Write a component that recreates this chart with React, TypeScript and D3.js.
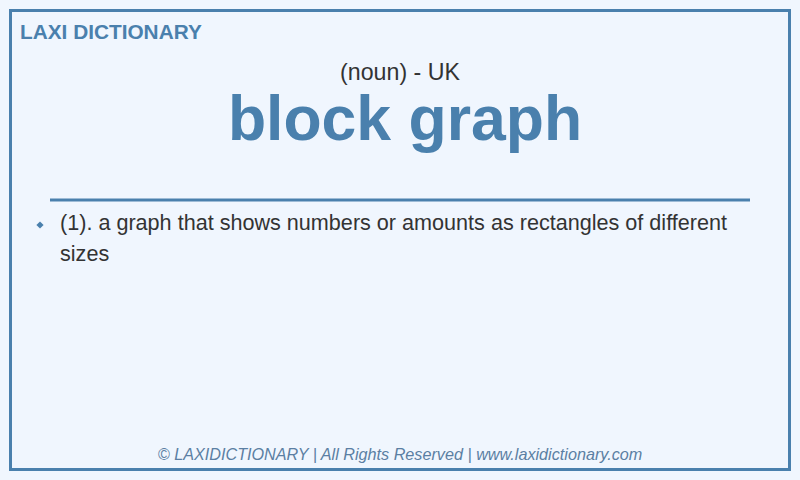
import { useEffect, useRef } from "react";
import * as d3 from "d3";

const marca = "LAXI DICTIONARY";
const categoria = "(noun) - UK";
const palabra = "block graph";
const definiciones = [
  ["(1). a graph that shows numbers or amounts as rectangles of different", "sizes"],
];
const pie = "© LAXIDICTIONARY | All Rights Reserved | www.laxidictionary.com";

const AZUL = "#4a80ad";
const FONDO = "#f0f6fe";
const FUENTE = "'Liberation Sans', Arial, Helvetica, sans-serif";

export default function App() {
  const svgRef = useRef<SVGSVGElement>(null);
  const ANCHO = 800;
  const ALTO = 480;

  useEffect(() => {
    if (!svgRef.current) return;
    const svg = d3.select(svgRef.current);
    svg.selectAll("*").remove();

    svg.append("rect").attr("width", ANCHO).attr("height", ALTO).attr("fill", FONDO);

    // marco
    svg
      .append("rect")
      .attr("x", 10.5)
      .attr("y", 10.5)
      .attr("width", 779)
      .attr("height", 459)
      .attr("fill", "none")
      .attr("stroke", AZUL)
      .attr("stroke-width", 3);

    svg
      .append("text")
      .attr("x", 20)
      .attr("y", 39)
      .attr("fill", AZUL)
      .attr("font-family", FUENTE)
      .attr("font-size", 20.8)
      .attr("font-weight", 700)
      .text(marca);

    svg
      .append("text")
      .attr("x", 400)
      .attr("y", 80)
      .attr("text-anchor", "middle")
      .attr("fill", "#333333")
      .attr("font-family", FUENTE)
      .attr("font-size", 23.2)
      .text(categoria);

    svg
      .append("text")
      .attr("x", 405)
      .attr("y", 140)
      .attr("text-anchor", "middle")
      .attr("fill", AZUL)
      .attr("font-family", FUENTE)
      .attr("font-size", 62.5)
      .attr("font-weight", 700)
      .text(palabra);

    svg
      .append("line")
      .attr("x1", 50)
      .attr("x2", 750)
      .attr("y1", 200)
      .attr("y2", 200)
      .attr("stroke", AZUL)
      .attr("stroke-width", 3);

    const lineaAlto = 31;
    let y0 = 230;
    definiciones.forEach((lineas) => {
      svg
        .append("path")
        .attr("d", d3.symbol(d3.symbolSquare, 26)())
        .attr("transform", `translate(40,${y0 - 5}) rotate(45)`)
        .attr("fill", AZUL);
      lineas.forEach((l, i) => {
        svg
          .append("text")
          .attr("x", 60)
          .attr("y", y0 + i * lineaAlto)
          .attr("fill", "#333333")
          .attr("font-family", FUENTE)
          .attr("font-size", 21.6)
          .text(l);
      });
      y0 += lineas.length * lineaAlto + 10;
    });

    svg
      .append("text")
      .attr("x", 400)
      .attr("y", 460)
      .attr("text-anchor", "middle")
      .attr("fill", "#5b7fa3")
      .attr("font-family", FUENTE)
      .attr("font-size", 16.2)
      .attr("font-style", "italic")
      .text(pie);
  }, []);

  return (
    <svg
      ref={svgRef}
      viewBox={`0 0 ${ANCHO} ${ALTO}`}
      width={ANCHO}
      height={ALTO}
      style={{ position: "absolute", left: 0, top: 0, display: "block" }}
    />
  );
}
